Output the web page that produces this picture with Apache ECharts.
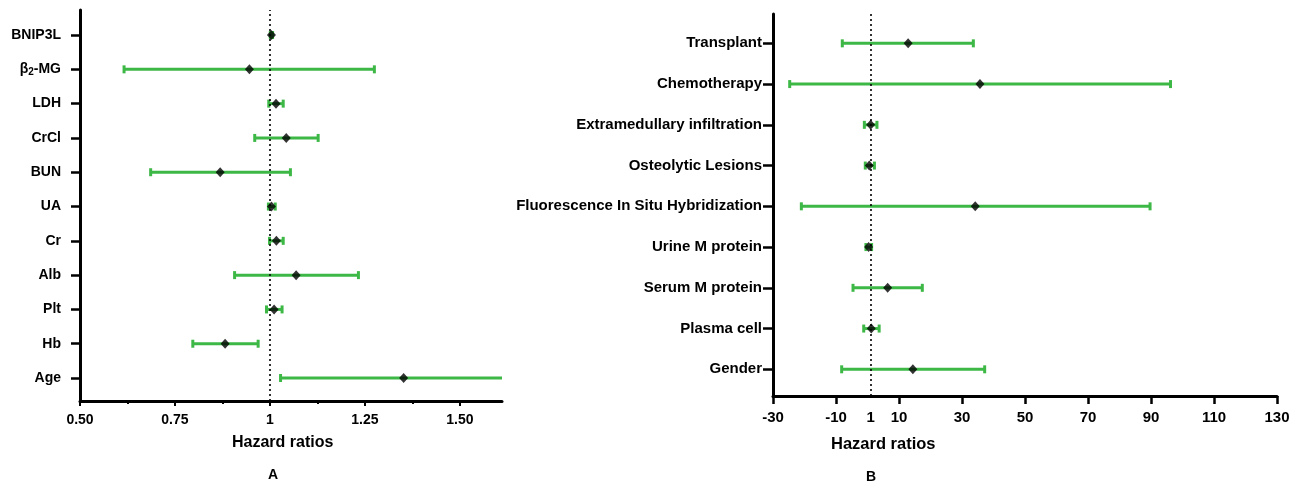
<!DOCTYPE html>
<html>
<head>
<meta charset="utf-8">
<script src="https://cdn.jsdelivr.net/npm/echarts@6/dist/echarts.min.js"></script>
<style>
html,body{margin:0;padding:0;background:#fff;}
#chart{width:1299px;height:489px;}
</style>
</head>
<body>
<div id="chart"></div>
<script>
// ---- Panel A (bottom to top) ----
const leftCats = ['Age','Hb','Plt','Alb','Cr','UA','BUN','CrCl','LDH','β2-MG','BNIP3L'];
const leftHR    = [1.352, 0.882, 1.011, 1.069, 1.017, 1.004, 0.869, 1.043, 1.016, 0.946, 1.004];
const leftLower = [1.028, 0.797, 0.991, 0.907, 0.999, 0.996, 0.686, 0.960, 0.997, 0.616, 1.001];
const leftUpper = [1.780, 0.969, 1.032, 1.233, 1.035, 1.014, 1.054, 1.127, 1.035, 1.275, 1.007];
const leftTickValues  = [0.5, 0.75, 1, 1.25, 1.5];
const leftMinorValues = [0.625, 0.875, 1.125, 1.375];

// ---- Panel B (bottom to top) ----
const rightCats = ['Gender','Plasma cell','Serum M protein','Urine M protein','Fluorescence In Situ Hybridization','Osteolytic Lesions','Extramedullary infiltration','Chemotherapy','Transplant'];
const rightHR    = [14.4, 1.2, 6.4, 0.35, 34.2, 0.57, 1.0, 35.7, 12.9];
const rightLower = [-8.2, -1.2, -4.6, -0.5, -21.0, -0.7, -1.0, -24.7, -8.0];
const rightUpper = [37.2, 3.7, 17.4, 1.3, 89.7, 2.2, 3.0, 96.2, 33.6];
const rightLabelValues = [-30, -10, 1, 10, 30, 50, 70, 90, 110, 130];
const rightTickValues  = [-30, -10, 10, 30, 50, 70, 90, 110, 130];

const GREEN = '#3db846';
const FONT = 'Liberation Sans';

function idxArr(n){ const a=[]; for(let i=0;i<n;i++) a.push(i); return a; }

function errRender(params, api){
  const cs = params.coordSys;
  const y = api.value(2);
  let p1 = api.coord([api.value(0), y]);
  let p2 = api.coord([api.value(1), y]);
  const xmin = cs.x, xmax = cs.x + cs.width;
  const c1 = p1[0] >= xmin - 0.5, c2 = p2[0] <= xmax + 0.5;
  const x1 = Math.max(p1[0], xmin), x2 = Math.min(p2[0], xmax);
  const style = {stroke: GREEN, lineWidth: 3};
  const children = [{type:'line', shape:{x1:x1, y1:p1[1], x2:x2, y2:p2[1]}, style: style}];
  if (c1) children.push({type:'line', shape:{x1:x1, y1:p1[1]-4, x2:x1, y2:p1[1]+4}, style: style});
  if (c2) children.push({type:'line', shape:{x1:x2, y1:p2[1]-4, x2:x2, y2:p2[1]+4}, style: style});
  return {type:'group', children: children};
}

// labels like "β2-MG": the digit after β is rendered as a subscript
function leftLabel(v){
  const s = leftCats[Math.round(v)];
  if (s === undefined) return '';
  const m = s.match(/^(β)(\d)(.*)$/);
  if (m) return '{n|' + m[1] + '}{s|' + m[2] + '}{n|' + m[3] + '}';
  return s;
}

const textA = {color:'#000', fontFamily: FONT, fontWeight:'bold', fontSize:14};
const textB = {color:'#000', fontFamily: FONT, fontWeight:'bold', fontSize:15};
const lineStyleAxis = {color:'#000', width:3};

const chart = echarts.init(document.getElementById('chart'), null, {renderer:'canvas'});

const option = {
  animation: false,
  backgroundColor: '#fff',
  grid: [
    {left: 80, top: 10, width: 422, height: 391},
    {left: 773, top: 14, width: 504, height: 382}
  ],
  xAxis: [
    {
      gridIndex: 0, type: 'value', min: 0.5, max: 1.611, position:'bottom',
      axisLine: {show:true, onZero:false, lineStyle: lineStyleAxis},
      axisTick: {show:true, customValues: leftTickValues, length: 5, lineStyle:{color:'#000', width:2}},
      axisLabel: Object.assign({customValues: leftTickValues, margin: 12,
        formatter: v => (Math.abs(v-1)<1e-9 ? '1' : v.toFixed(2))}, textA),
      splitLine: {show:false}
    },
    {
      gridIndex: 0, type: 'value', min: 0.5, max: 1.611, position:'bottom',
      axisLine: {show:false, onZero:false},
      axisTick: {show:true, customValues: leftMinorValues, length: 3, lineStyle:{color:'#000', width:2}},
      axisLabel: {show:false},
      splitLine: {show:false}
    },
    {
      gridIndex: 1, type: 'value', min: -30, max: 130, position:'bottom',
      axisLine: {show:true, onZero:false, lineStyle: lineStyleAxis},
      axisTick: {show:true, customValues: rightTickValues, length: 8, lineStyle:{color:'#000', width:2.5}},
      axisLabel: Object.assign({customValues: rightLabelValues, margin: 14}, textB),
      splitLine: {show:false}
    }
  ],
  yAxis: [
    {
      gridIndex: 0, type: 'value', min: -0.67, max: 10.73,
      axisLine: {show:true, onZero:false, lineStyle: lineStyleAxis},
      axisTick: {show:true, customValues: idxArr(leftCats.length), length: 9, lineStyle:{color:'#000', width:2.5}},
      axisLabel: Object.assign({customValues: idxArr(leftCats.length), margin: 19,
        formatter: leftLabel,
        rich: {
          n: {color:'#000', fontFamily: FONT, fontWeight:'bold', fontSize:14, lineHeight:16, verticalAlign:'middle'},
          s: {color:'#000', fontFamily: FONT, fontWeight:'bold', fontSize:10, lineHeight:10, verticalAlign:'bottom'}
        }}, textA),
      splitLine: {show:false}
    },
    {
      gridIndex: 1, type: 'value', min: -0.655, max: 8.72,
      axisLine: {show:true, onZero:false, lineStyle: lineStyleAxis},
      axisTick: {show:true, customValues: idxArr(rightCats.length), length: 10, lineStyle:{color:'#000', width:2.5}},
      axisLabel: Object.assign({customValues: idxArr(rightCats.length), margin: 11,
        formatter: v => rightCats[Math.round(v)]}, textB),
      splitLine: {show:false}
    }
  ],
  series: [
    {
      type: 'custom', xAxisIndex: 0, yAxisIndex: 0, z: 2,
      renderItem: errRender,
      encode: {x:[0,1], y:2},
      data: leftCats.map((c,i) => [leftLower[i], leftUpper[i], i]),
      markLine: {
        silent: true, symbol: 'none', label:{show:false},
        lineStyle: {color:'#000', type:[2,3], width:1.6},
        data: [{xAxis: 1}]
      }
    },
    {
      type: 'scatter', xAxisIndex: 0, yAxisIndex: 0, z: 3,
      symbol: 'diamond', symbolSize: [9, 10],
      itemStyle: {color:'#000'},
      data: leftCats.map((c,i) => [leftHR[i], i])
    },
    {
      type: 'custom', xAxisIndex: 2, yAxisIndex: 1, z: 2,
      renderItem: errRender,
      encode: {x:[0,1], y:2},
      data: rightCats.map((c,i) => [rightLower[i], rightUpper[i], i]),
      markLine: {
        silent: true, symbol: 'none', label:{show:false},
        lineStyle: {color:'#000', type:[2,3], width:1.6},
        data: [{xAxis: 1}]
      }
    },
    {
      type: 'scatter', xAxisIndex: 2, yAxisIndex: 1, z: 3,
      symbol: 'diamond', symbolSize: [9, 10],
      itemStyle: {color:'#000'},
      data: rightCats.map((c,i) => [rightHR[i], i])
    }
  ],
  graphic: [
    {type:'text', left: 232, top: 435, style:{text:'Hazard ratios', fill:'#000', font:'bold 16px "Liberation Sans"'}},
    {type:'text', left: 268, top: 468, style:{text:'A', fill:'#000', font:'bold 14px "Liberation Sans"'}},
    {type:'text', left: 831, top: 436, style:{text:'Hazard ratios', fill:'#000', font:'bold 16.5px "Liberation Sans"'}},
    {type:'text', left: 866, top: 470, style:{text:'B', fill:'#000', font:'bold 14px "Liberation Sans"'}}
  ]
};
chart.setOption(option);
</script>
</body>
</html>
